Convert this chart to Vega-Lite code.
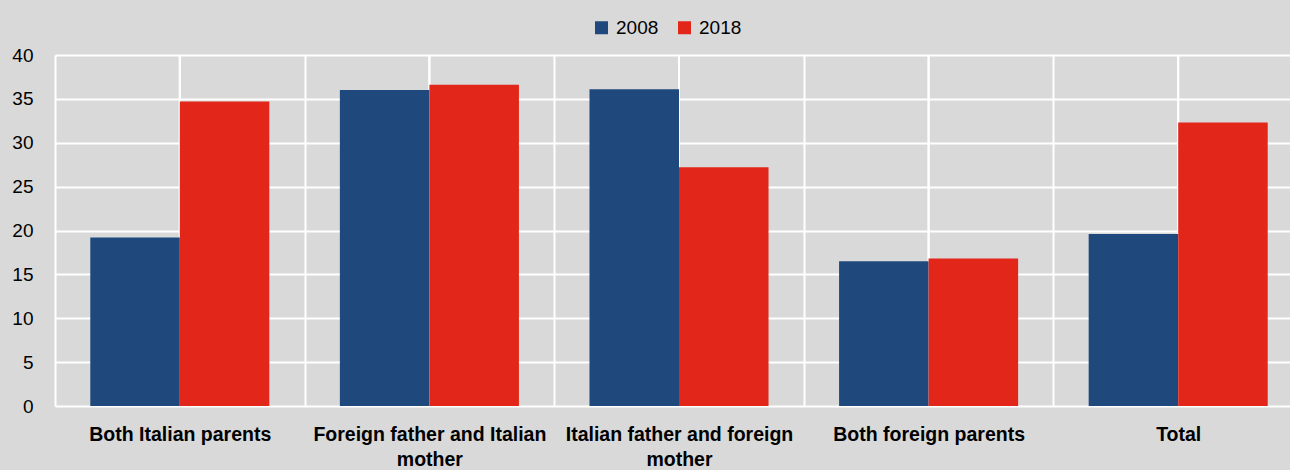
{
  "$schema": "https://vega.github.io/schema/vega-lite/v6.json",
  "width": 1248,
  "height": 351,
  "autosize": {"type": "none"},
  "padding": {"left": 55, "top": 55, "right": 0, "bottom": 64},
  "background": "#d9d9d9",
  "config": {"view": {"stroke": null}, "font": "Liberation Sans"},
  "data": {
    "values": [
      {"category": "Both Italian parents", "year": "2008", "value": 19.2},
      {"category": "Both Italian parents", "year": "2018", "value": 34.7},
      {"category": "Foreign father and Italian mother", "year": "2008", "value": 36.0},
      {"category": "Foreign father and Italian mother", "year": "2018", "value": 36.6},
      {"category": "Italian father and foreign mother", "year": "2008", "value": 36.1},
      {"category": "Italian father and foreign mother", "year": "2018", "value": 27.2},
      {"category": "Both foreign parents", "year": "2008", "value": 16.5},
      {"category": "Both foreign parents", "year": "2018", "value": 16.8},
      {"category": "Total", "year": "2008", "value": 19.6},
      {"category": "Total", "year": "2018", "value": 32.3}
    ]
  },
  "encoding": {
    "x": {
      "field": "category",
      "type": "nominal",
      "sort": null,
      "scale": {"paddingInner": 0, "paddingOuter": 0},
      "axis": {
        "title": null,
        "tickBand": "extent",
        "grid": true,
        "gridColor": "white",
        "gridWidth": 2,
        "gridOpacity": 1,
        "ticks": false,
        "domain": false,
        "labelAngle": 0,
        "labelFont": "Liberation Sans",
        "labelFontWeight": "bold",
        "labelFontSize": 19.5,
        "labelColor": "#000000",
        "labelBaseline": "top",
        "labelPadding": 19,
        "labelLineHeight": 25,
        "labelLimit": 400,
        "labelExpr": "datum.label == 'Foreign father and Italian mother' ? ['Foreign father and Italian', 'mother'] : datum.label == 'Italian father and foreign mother' ? ['Italian father and foreign', 'mother'] : datum.label"
      }
    }
  },
  "layer": [
    {
      "mark": {"type": "rule", "color": "white", "strokeWidth": 2}
    },
    {
      "mark": {"type": "bar"},
      "encoding": {
        "xOffset": {
          "field": "year",
          "type": "nominal",
          "scale": {"paddingOuter": 0.394, "paddingInner": 0}
        },
        "y": {
          "field": "value",
          "type": "quantitative",
          "scale": {"domain": [0, 40], "nice": false},
          "axis": {
            "title": null,
            "values": [0, 5, 10, 15, 20, 25, 30, 35, 40],
            "grid": true,
            "gridColor": "white",
            "gridWidth": 2,
            "gridOpacity": 1,
            "ticks": false,
            "domain": false,
            "labelFont": "Liberation Sans",
            "labelFontSize": 19,
            "labelColor": "#000000",
            "labelPadding": 22
          }
        },
        "color": {
          "field": "year",
          "type": "nominal",
          "scale": {"domain": ["2008", "2018"], "range": ["#1f497d", "#e3261a"]},
          "legend": {
            "title": null,
            "orient": "none",
            "legendX": 537,
            "legendY": -37,
            "direction": "horizontal",
            "symbolType": "square",
            "symbolSize": 169,
            "symbolStrokeWidth": 0,
            "symbolOpacity": 1,
            "labelFont": "Liberation Sans",
            "labelFontSize": 19,
            "labelColor": "#000000",
            "labelOffset": 5,
            "columnPadding": 16,
            "padding": 0
          }
        }
      }
    }
  ]
}
